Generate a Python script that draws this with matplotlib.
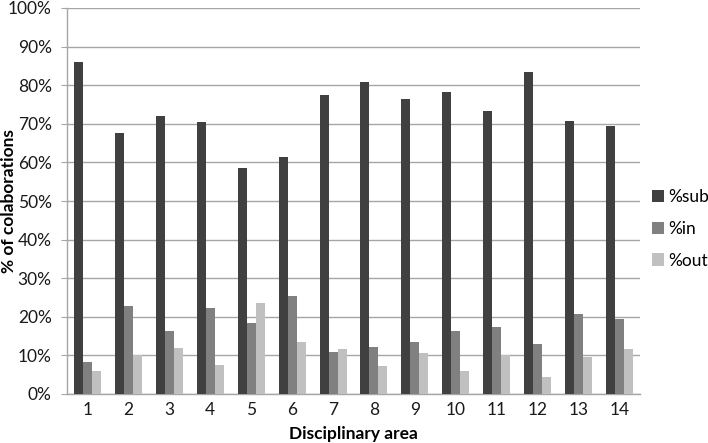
import matplotlib
matplotlib.use("Agg")
import matplotlib.pyplot as plt
import numpy as np
from matplotlib.ticker import FuncFormatter

plt.rcParams['font.family'] = ['Lato', 'DejaVu Sans']

areas = [str(i) for i in range(1, 15)]
pct_sub = [86.1, 67.6, 72.1, 70.5, 58.5, 61.3, 77.5, 80.9, 76.4, 78.3, 73.3, 83.3, 70.6, 69.5]
pct_in = [8.4, 22.8, 16.3, 22.3, 18.4, 25.5, 11.0, 12.3, 13.5, 16.4, 17.4, 12.9, 20.6, 19.5]
pct_out = [5.9, 10.1, 11.9, 7.5, 23.5, 13.6, 11.7, 7.3, 10.7, 5.9, 10.1, 4.5, 9.5, 11.6]
series_names = ['%sub', '%in', '%out']
colors = ['#404040', '#808080', '#c0c0c0']

fig = plt.figure(figsize=(7.08, 4.43), dpi=100)
ax = fig.add_axes([67/708, 1 - 394/443, 573/708, 386/443])

x = np.arange(len(areas))
w = 0.22
for i, (vals, name, c) in enumerate(zip([pct_sub, pct_in, pct_out], series_names, colors)):
    ax.bar(x + (i - 1) * w, vals, width=w, color=c, label=name, zorder=3)

ax.set_xlim(-0.5, len(areas) - 0.5)
ax.set_ylim(0, 100)
ax.set_yticks(np.arange(0, 101, 10))
ax.yaxis.set_major_formatter(FuncFormatter(lambda v, p: f"{int(v)}%"))
ax.set_xticks(x)
ax.set_xticklabels(areas)
ax.grid(axis='y', color='#a6a6a6', linewidth=1.0, zorder=0)
for s in ['top', 'right']:
    ax.spines[s].set_visible(False)
for s in ['left', 'bottom']:
    ax.spines[s].set_color('#a6a6a6')
    ax.spines[s].set_linewidth(1.0)
ax.tick_params(axis='y', length=4, color='#a6a6a6', labelsize=12.5, pad=7, labelcolor='#1a1a1a')
ax.tick_params(axis='x', length=0, labelsize=12.5, pad=6, labelcolor='#1a1a1a')

ax.set_xlabel('Disciplinary area', fontsize=12.5, fontweight='bold')
ax.set_ylabel('% of colaborations', fontsize=12.5, fontweight='bold')
ax.yaxis.set_label_coords(-50/573, 0.5)
ax.xaxis.set_label_coords(0.5, -(426 - 394)/386)
ax.xaxis.label.set_va('top')

ax.legend(loc='center left', bbox_to_anchor=(652/708, 1 - 229/443), bbox_transform=fig.transFigure,
          frameon=False, fontsize=12.5, handlelength=0.7, handleheight=0.7,
          handletextpad=0.25, labelspacing=0.9, borderpad=0, borderaxespad=0)

fig.savefig('out.png', dpi=100)
